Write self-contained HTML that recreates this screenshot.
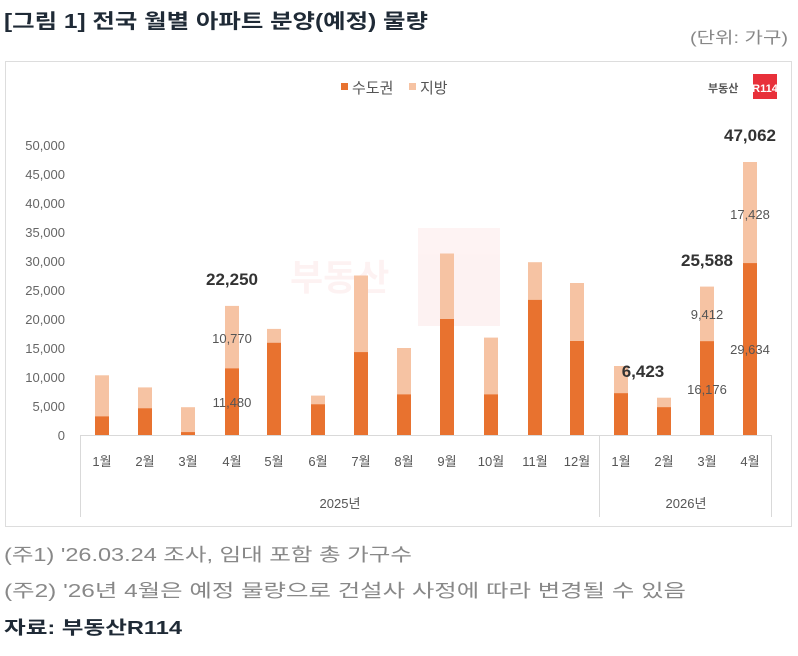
<!DOCTYPE html>
<html><head><meta charset="utf-8"><style>
body{margin:0;background:#fff;width:798px;height:656px;overflow:hidden;font-family:"Liberation Sans","Noto Sans CJK KR",sans-serif}
</style></head><body>
<svg width="798" height="656" xmlns="http://www.w3.org/2000/svg" style="position:absolute;left:0;top:0;font-family:'Liberation Sans','Noto Sans CJK KR',sans-serif">
<text x="4" y="28" font-size="20" font-weight="bold" fill="#1f2a36" textLength="424" lengthAdjust="spacingAndGlyphs">[그림 1] 전국 월별 아파트 분양(예정) 물량</text>
<text x="788" y="43" font-size="16" fill="#888" text-anchor="end" textLength="98" lengthAdjust="spacingAndGlyphs">(단위: 가구)</text>
<rect x="5.5" y="61.5" width="786" height="465" fill="#fff" stroke="#ddd"/>
<rect x="341" y="83" width="7" height="7" fill="#E8722F"/>
<text x="352" y="93" font-size="15" fill="#555">수도권</text>
<rect x="409" y="83" width="7" height="7" fill="#F6C3A3"/>
<text x="420" y="93" font-size="15" fill="#555">지방</text>
<text x="708" y="92" font-size="11" font-weight="bold" fill="#555">부동산</text>
<rect x="753" y="74" width="24" height="25" fill="#E8303A"/>
<text x="765" y="92" font-size="11" font-weight="bold" fill="#fff" text-anchor="middle">R114</text>
<g opacity="0.06"><text x="290" y="290" font-size="36" font-weight="bold" fill="#E8303A">부동산</text><rect x="418" y="228" width="82" height="98" fill="#E8303A"/></g>
<g font-size="13" fill="#666" text-anchor="end">
<text x="65" y="150">50,000</text><text x="65" y="179">45,000</text><text x="65" y="208">40,000</text><text x="65" y="237">35,000</text><text x="65" y="266">30,000</text><text x="65" y="295">25,000</text><text x="65" y="324">20,000</text><text x="65" y="353">15,000</text><text x="65" y="382">10,000</text><text x="65" y="411">5,000</text><text x="65" y="440">0</text>
</g>
<g fill="#F6C3A3">
<rect x="95" y="375.3" width="14" height="59.7"/><rect x="138" y="387.4" width="14" height="47.6"/><rect x="181" y="407.2" width="14" height="27.8"/><rect x="225" y="305.9" width="14" height="129.1"/><rect x="267" y="328.9" width="14" height="106.1"/><rect x="311" y="395.6" width="14" height="39.4"/><rect x="354" y="275.5" width="14" height="159.5"/><rect x="397" y="348" width="14" height="87"/><rect x="440" y="253.5" width="14" height="181.5"/><rect x="484" y="337.6" width="14" height="97.4"/><rect x="528" y="262.2" width="14" height="172.8"/><rect x="570" y="283" width="14" height="152"/><rect x="614" y="366" width="14" height="69"/><rect x="657" y="397.7" width="14" height="37.3"/><rect x="700" y="286.6" width="14" height="148.4"/><rect x="743" y="162" width="14" height="273"/>
</g>
<g fill="#E8722F">
<rect x="95" y="416.4" width="14" height="18.6"/><rect x="138" y="408.3" width="14" height="26.7"/><rect x="181" y="432.1" width="14" height="2.9"/><rect x="225" y="368.4" width="14" height="66.6"/><rect x="267" y="342.8" width="14" height="92.2"/><rect x="311" y="404.3" width="14" height="30.7"/><rect x="354" y="352.1" width="14" height="82.9"/><rect x="397" y="394.4" width="14" height="40.6"/><rect x="440" y="319" width="14" height="116"/><rect x="484" y="394.4" width="14" height="40.6"/><rect x="528" y="299.9" width="14" height="135.1"/><rect x="570" y="341" width="14" height="94"/><rect x="614" y="393.2" width="14" height="41.8"/><rect x="657" y="407.2" width="14" height="27.8"/><rect x="700" y="341.2" width="14" height="93.8"/><rect x="743" y="263.1" width="14" height="171.9"/>
</g>
<g stroke="#d9d9d9" fill="none"><line x1="80" y1="435.5" x2="772" y2="435.5"/><line x1="80.5" y1="435" x2="80.5" y2="517"/><line x1="599.5" y1="435" x2="599.5" y2="517"/><line x1="771.5" y1="435" x2="771.5" y2="517"/></g>
<g font-size="13" fill="#555" text-anchor="middle">
<text x="102" y="466">1월</text><text x="145" y="466">2월</text><text x="188" y="466">3월</text><text x="232" y="466">4월</text><text x="274" y="466">5월</text><text x="318" y="466">6월</text><text x="361" y="466">7월</text><text x="404" y="466">8월</text><text x="447" y="466">9월</text><text x="491" y="466">10월</text><text x="535" y="466">11월</text><text x="577" y="466">12월</text><text x="621" y="466">1월</text><text x="664" y="466">2월</text><text x="707" y="466">3월</text><text x="750" y="466">4월</text>
<text x="340" y="508">2025년</text><text x="686" y="508">2026년</text>
</g>
<g font-size="13" fill="#555" text-anchor="middle">
<text x="232" y="343">10,770</text><text x="232" y="407">11,480</text><text x="707" y="319">9,412</text><text x="707" y="394">16,176</text><text x="750" y="354">29,634</text><text x="750" y="219">17,428</text>
</g>
<g font-size="17" font-weight="bold" fill="#333" text-anchor="middle">
<text x="232" y="285">22,250</text><text x="643" y="377">6,423</text><text x="707" y="266">25,588</text><text x="750" y="141">47,062</text>
</g>
<text x="4" y="561" font-size="18" fill="#888" textLength="408" lengthAdjust="spacingAndGlyphs">(주1) '26.03.24 조사, 임대 포함 총 가구수</text>
<text x="4" y="597" font-size="18" fill="#888" textLength="682" lengthAdjust="spacingAndGlyphs">(주2) '26년 4월은 예정 물량으로 건설사 사정에 따라 변경될 수 있음</text>
<text x="4" y="634" font-size="18" font-weight="bold" fill="#1f2a36" textLength="178" lengthAdjust="spacingAndGlyphs">자료: 부동산R114</text>
</svg>
</body></html>
